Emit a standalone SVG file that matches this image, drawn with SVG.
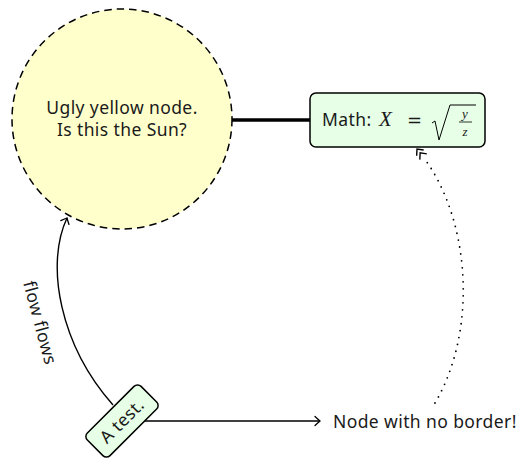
<svg xmlns="http://www.w3.org/2000/svg" width="520" height="459" viewBox="0 0 520 459">
<style>
  .t { font-family: "Noto Sans", Lato, sans-serif; font-size: 17.5px; letter-spacing: 0.4px; fill: #1a1a1a; }
  .m { font-family: "Liberation Serif", serif; font-style: italic; fill: #1a1a1a; }
  .edge { fill: none; stroke: #000; stroke-width: 1.4; }
</style>
<defs>
  <marker id="to" markerUnits="userSpaceOnUse" markerWidth="14" markerHeight="14" viewBox="-8 -7 10 14" refX="0" refY="0" orient="auto" overflow="visible">
    <path d="M-5,-4.5 Q-1.5,-1.2 0,0 Q-1.5,1.2 -5,4.5" fill="none" stroke="#000" stroke-width="1.3" stroke-linecap="round"/>
  </marker>
  <marker id="dbl" markerUnits="userSpaceOnUse" markerWidth="20" markerHeight="14" viewBox="-12 -7 14 14" refX="0" refY="0" orient="auto" overflow="visible">
    <path d="M-5,-4.5 L0,0 L-5,4.5 M-10,-4.5 L-5,0 L-10,4.5" fill="none" stroke="#000" stroke-width="1.4"/>
  </marker>
</defs>

<g id="connectors">
  <line x1="232" y1="120" x2="310" y2="120" stroke="#000" stroke-width="3.4"/>
  <path class="edge" d="M113,405 C60,345 45,265 67,218" marker-end="url(#to)"/>
  <line class="edge" x1="122" y1="421" x2="320" y2="421" marker-end="url(#to)"/>
  <path d="M435,403 C478,330 470,220 424,158" fill="none" stroke="#000" stroke-width="1.8" stroke-linecap="round" stroke-dasharray="0 7"/>
  <path d="M430,165 L417,149" fill="none" stroke="none" marker-end="url(#dbl)"/>
  <text class="t" transform="translate(39,323) rotate(75)" text-anchor="middle" y="5">flow flows</text>
</g>

<g id="sun">
  <circle cx="122" cy="119" r="110" fill="#ffffcc" stroke="#000" stroke-width="1.5" stroke-dasharray="7.5 5"/>
  <text class="t" x="122" y="114" text-anchor="middle">Ugly yellow node.</text>
  <text class="t" x="122" y="136" text-anchor="middle">Is this the Sun?</text>
</g>

<g id="math">
  <rect x="310" y="93" width="175" height="54" rx="6" fill="#e6ffe6" stroke="#000" stroke-width="1.5"/>
  <text class="t" x="322" y="126">Math:</text>
  <text class="m" x="379" y="126" font-size="21">X</text>
  <text x="407" y="126" font-family="'DejaVu Sans', sans-serif" font-size="18" fill="#1a1a1a">=</text>
  <polyline points="432,123 435,121 439,140 450,105 476,105" fill="none" stroke="#000" stroke-width="1"/>
  <text class="m" x="465" y="118" font-size="13" text-anchor="middle">y</text>
  <line x1="459" y1="122" x2="472" y2="122" stroke="#000" stroke-width="0.8"/>
  <text class="m" x="465" y="136" font-size="13" text-anchor="middle">z</text>
</g>

<g id="atest">
  <g transform="translate(122,421) rotate(-45)">
    <rect x="-38" y="-16" width="76" height="32" rx="5" fill="#e6ffe6" stroke="#000" stroke-width="1.5"/>
    <text class="t" x="0" y="6" text-anchor="middle">A test.</text>
  </g>
</g>

<g id="noborder">
  <text class="t" x="333" y="428">Node with no border!</text>
</g>
</svg>
